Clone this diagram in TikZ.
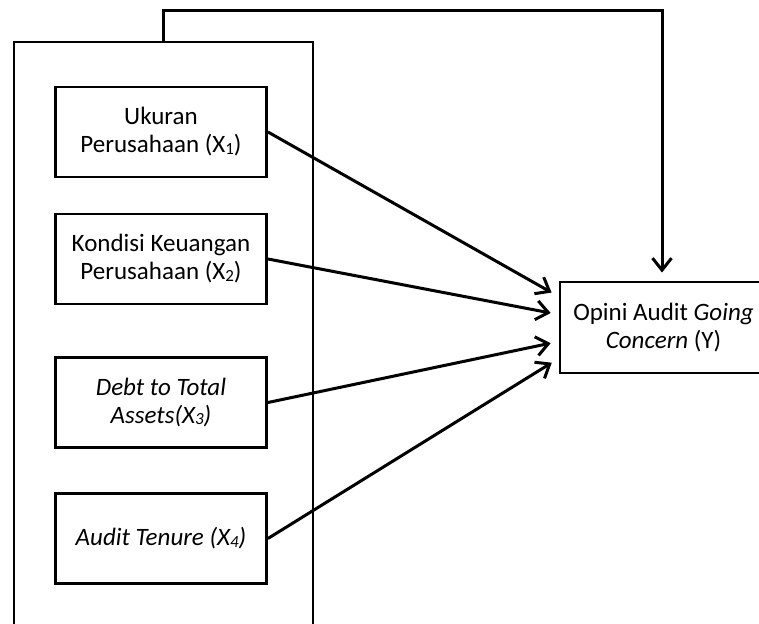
\documentclass[tikz,border=0pt]{standalone}
\usepackage{fontspec}
\setmainfont{Carlito}
\usetikzlibrary{arrows.meta,positioning}
\newcommand{\idxnum}[1]{\raisebox{-0.6pt}{\fontsize{8.5pt}{8.5pt}\selectfont #1}}
\tikzset{
    varbox/.style={rectangle,draw,line width=1.45pt,align=center,minimum width=105.5pt,minimum height=45pt,inner sep=0pt,font=\fontsize{12.5pt}{14pt}\selectfont},
    depbox/.style={rectangle,draw,line width=1.45pt,align=center,minimum width=100.5pt,minimum height=45.5pt,inner sep=0pt,font=\fontsize{12.5pt}{14pt}\selectfont},
    groupframe/.style={rectangle,draw,line width=1.45pt,minimum width=149.5pt,minimum height=299pt,inner sep=0pt},
    linkline/.style={-{Straight Barb[length=6pt,width=9.5pt,line width=1.5pt]},line width=1.5pt,shorten >=4pt}
}
\begin{document}
\begin{tikzpicture}[x=0.5pt,y=-0.5pt]
    \useasboundingbox (0,0) rectangle (759,624);
    \node[groupframe] (frame) at (163.5,341) {};
    \node[varbox] (ukuran) at (161,132) {Ukuran\\Perusahaan (X\idxnum{1})};
    \node[varbox] (kondisi) at (161,259) {Kondisi Keuangan\\Perusahaan (X\idxnum{2})};
    \node[varbox] (debt) at (161,402.5) {\itshape Debt to Total\\\itshape Assets(X\idxnum{3})};
    \node[varbox] (tenure) at (161,538.5) {\itshape Audit Tenure (X\idxnum{4})};
    \node[depbox] (opini) at (660.5,327.5) {\hspace{3pt}Opini Audit \textit{Going}\\\hspace{3pt}\textit{Concern} (Y)};
    \draw[linkline] (ukuran.east) -- ([yshift=15.5pt]opini.west);
    \draw[linkline] (kondisi.east) -- ([yshift=6.5pt]opini.west);
    \draw[linkline] (debt.east) -- ([yshift=-7pt]opini.west);
    \draw[linkline] (tenure.east) -- ([yshift=-15.5pt]opini.west);
    \draw[linkline] (frame.north) -- ++(0,-30) -| ([xshift=0.75pt]opini.north);
\end{tikzpicture}
\end{document}
